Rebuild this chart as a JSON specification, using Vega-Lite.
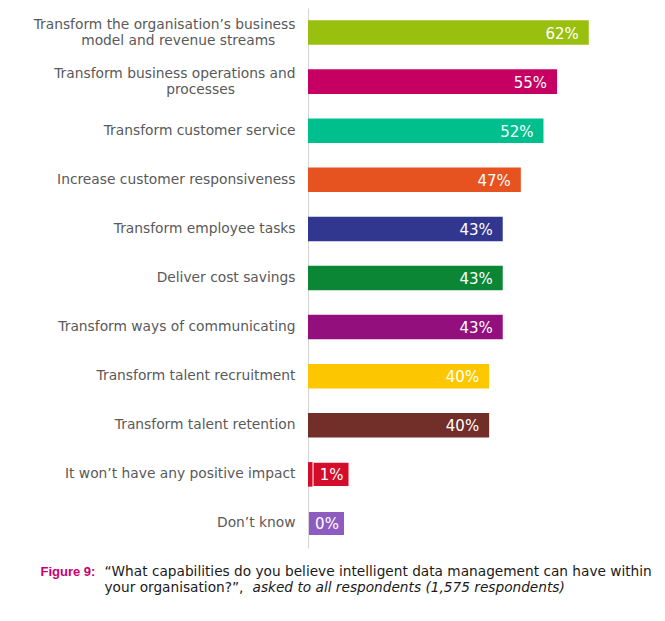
{
  "$schema": "https://vega.github.io/schema/vega-lite/v6.json",
  "autosize": {"type": "none"},
  "padding": {"left": 308, "top": 8, "right": 40, "bottom": 73},
  "width": 317,
  "height": 540,
  "background": "white",
  "config": {"view": {"stroke": null}, "font": "DejaVu Sans"},
  "data": {
    "values": [
      {"label": "Transform the organisation’s business|model and revenue streams\u2800\u2800", "value": 0.62},
      {"label": "Transform business operations and|processes\u2800\u2800\u2800\u2800\u2800\u2800", "value": 0.55},
      {"label": "Transform customer service", "value": 0.52},
      {"label": "Increase customer responsiveness", "value": 0.47},
      {"label": "Transform employee tasks", "value": 0.43},
      {"label": "Deliver cost savings", "value": 0.43},
      {"label": "Transform ways of communicating", "value": 0.43},
      {"label": "Transform talent recruitment", "value": 0.40},
      {"label": "Transform talent retention", "value": 0.40},
      {"label": "It won’t have any positive impact", "value": 0.01},
      {"label": "Don’t know", "value": 0.0}
    ]
  },
  "encoding": {
    "y": {
      "field": "label",
      "type": "nominal",
      "sort": null,
      "scale": {"paddingInner": 0.5, "paddingOuter": 0.25},
      "axis": {
        "labelExpr": "split(datum.label, '|')",
        "labelFont": "DejaVu Sans",
        "labelFontSize": 13.8,
        "labelColor": "#595959",
        "labelLineHeight": 16,
        "labelPadding": 13,
        "labelLimit": 400,
        "labelOffset": {"condition": {"test": "indexof(datum.label, '|') >= 0", "value": -8}, "value": 0},
        "ticks": false,
        "domainColor": "#d4d4d4",
        "domainWidth": 1,
        "grid": false,
        "title": "Figure 9:",
        "titleAngle": 0,
        "titleAlign": "left",
        "titleBaseline": "alphabetic",
        "titleX": -268,
        "titleY": 567.5,
        "titleFont": "Liberation Sans",
        "titleFontSize": 13,
        "titleFontWeight": "bold",
        "titleColor": "#c8006e"
      }
    }
  },
  "layer": [
    {
      "mark": {"type": "bar"},
      "encoding": {
        "x": {
          "field": "value",
          "type": "quantitative",
          "scale": {"domain": [0, 0.7], "nice": false},
          "axis": {
            "orient": "bottom",
            "domain": false,
            "ticks": false,
            "labels": false,
            "grid": false,
            "title": ["“What capabilities do you believe intelligent data management can have within", "your organisation?”,"],
            "titleX": -204,
            "titleY": 27.5,
            "titleAlign": "left",
            "titleBaseline": "alphabetic",
            "titleFont": "DejaVu Sans",
            "titleFontSize": 13.7,
            "titleFontWeight": "normal",
            "titleColor": "#1a1a1a",
            "titleLineHeight": 15.5
          }
        },
        "color": {
          "field": "label",
          "type": "nominal",
          "legend": null,
          "sort": null,
          "scale": {
            "domain": [
              "Transform the organisation’s business|model and revenue streams\u2800\u2800",
              "Transform business operations and|processes\u2800\u2800\u2800\u2800\u2800\u2800",
              "Transform customer service",
              "Increase customer responsiveness",
              "Transform employee tasks",
              "Deliver cost savings",
              "Transform ways of communicating",
              "Transform talent recruitment",
              "Transform talent retention",
              "It won’t have any positive impact",
              "Don’t know"
            ],
            "range": ["#99c00f", "#c60063", "#00bf8f", "#e65321", "#31368f", "#0a8635", "#920f7d", "#fdc700", "#722e29", "#d40e2a", "#8e5cc0"]
          }
        }
      }
    },
    {
      "transform": [{"filter": "datum.value >= 0.05"}],
      "mark": {"type": "text", "align": "right", "baseline": "middle", "dx": -10, "dy": 1, "color": "white", "font": "DejaVu Sans", "fontSize": 15},
      "encoding": {
        "x": {
          "field": "value",
          "type": "quantitative",
          "axis": {
            "orient": "top",
            "domain": false,
            "ticks": false,
            "labels": false,
            "grid": false,
            "title": "asked to all respondents (1,575 respondents)",
            "titleX": -56,
            "titleY": 583,
            "titleAlign": "left",
            "titleBaseline": "alphabetic",
            "titleFont": "DejaVu Sans",
            "titleFontSize": 13.7,
            "titleFontWeight": "normal",
            "titleFontStyle": "italic",
            "titleColor": "#1a1a1a"
          }
        },
        "text": {"field": "value", "type": "quantitative", "format": ".0%"}
      }
    },
    {
      "transform": [{"filter": "datum.value < 0.05"}],
      "mark": {"type": "bar", "xOffset": 1, "x2Offset": 36, "height": {"band": 0.94}},
      "encoding": {
        "x": {"field": "value", "type": "quantitative", "axis": null},
        "x2": {"field": "value"},
        "color": {"field": "label", "type": "nominal", "legend": null, "sort": null}
      }
    },
    {
      "transform": [{"filter": "datum.value < 0.05"}],
      "mark": {"type": "text", "align": "center", "baseline": "middle", "dx": 19, "dy": 1, "color": "white", "font": "DejaVu Sans", "fontSize": 15},
      "encoding": {
        "x": {"field": "value", "type": "quantitative", "axis": null},
        "text": {"field": "value", "type": "quantitative", "format": ".0%"}
      }
    }
  ],
  "resolve": {"axis": {"x": "independent"}}
}
